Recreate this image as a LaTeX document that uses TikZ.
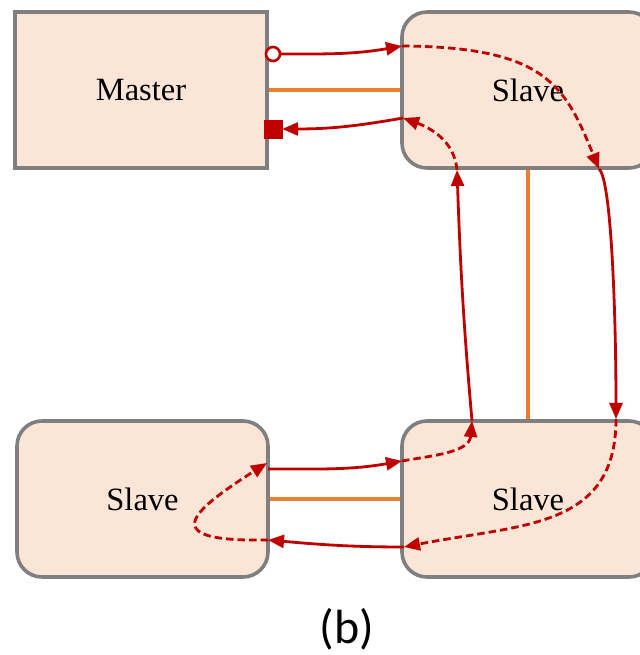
\documentclass[tikz,border=0pt]{standalone}
\usepackage{fontspec}
\setmainfont{Liberation Serif}
\newfontfamily\labfont{Carlito}
\usetikzlibrary{arrows.meta}
\definecolor{boxfill}{HTML}{FBE5D6}
\definecolor{boxline}{HTML}{7F7F7F}
\definecolor{orng}{HTML}{ED7D31}
\definecolor{rd}{HTML}{C00000}
\tikzset{
  unitbox/.style={draw=boxline, line width=3.6pt, fill=boxfill, minimum width=252pt, minimum height=156pt, inner sep=0pt, font=\fontsize{32.5}{36}\selectfont},
  slavebox/.style={unitbox, rounded corners=25pt},
  bus/.style={draw=orng, line width=3.4pt},
  sig/.style={draw=rd, line width=2.8pt, -{Triangle[length=16pt,width=13pt]}},
  sigd/.style={sig, dash pattern=on 7.5pt off 4pt},
}
\begin{document}
\begin{tikzpicture}[x=1pt,y=1pt]
\useasboundingbox (0,0) rectangle (639,655);
\node[unitbox] (m) at (141,565) {Master};
\node[slavebox] (s1) at (528,565) {Slave};
\node[slavebox] (s2) at (528,156) {Slave};
\node[slavebox, minimum width=251pt] (s3) at (142.5,156) {Slave};
\node[font=\labfont\fontsize{48}{52}\selectfont, inner sep=0pt] (lab) at (347,26) {(b)};

\draw[bus] (m.east) -- (s1.west);
\draw[bus] (s1.south) -- (s2.north);
\draw[bus] (s3.east) -- (s2.west);

\coordinate (p1) at (402,609);
\coordinate (p2) at (599,486);
\coordinate (p3) at (616,236);
\coordinate (p4) at (404,108);
\coordinate (p5) at (268,115);
\coordinate (p6) at (267,192);
\coordinate (p6b) at (268,186);
\coordinate (p7) at (402,194);
\coordinate (p8) at (472,234);
\coordinate (p9) at (457,485);
\coordinate (p10) at (403,537);

\node[draw=rd, fill=rd, minimum size=18pt, inner sep=0pt] (sq) at (273,526) {};

\draw[sig] (273,601) to[out=0,in=190] (p1);
\node[circle, draw=rd, line width=2.6pt, fill=white, minimum size=14pt, inner sep=0pt] (c1) at (273,601) {};
\draw[sigd] (p1) .. controls (545,608) and (565,570) .. (p2);
\draw[sig] (p2) .. controls (612,475) and (616,330) .. (p3);
\draw[sigd] (p3) .. controls (616,126) and (522,131) .. (p4);
\draw[sig] (p4) to[out=180,in=-5] (p5);
\draw[sigd] (p5) .. controls (160,113) and (185,140) .. (p6);
\draw[sig] (p6b) to[out=0,in=190] (p7);
\draw[sigd] (p7) to[out=10,in=-95] (p8);
\draw[sig] (p8) to[out=95,in=-88] (p9);
\draw[sigd] (p9) to[out=95,in=-20] (p10);
\draw[sig] (p10) to[out=190,in=0] (sq.east);
\end{tikzpicture}
\end{document}
